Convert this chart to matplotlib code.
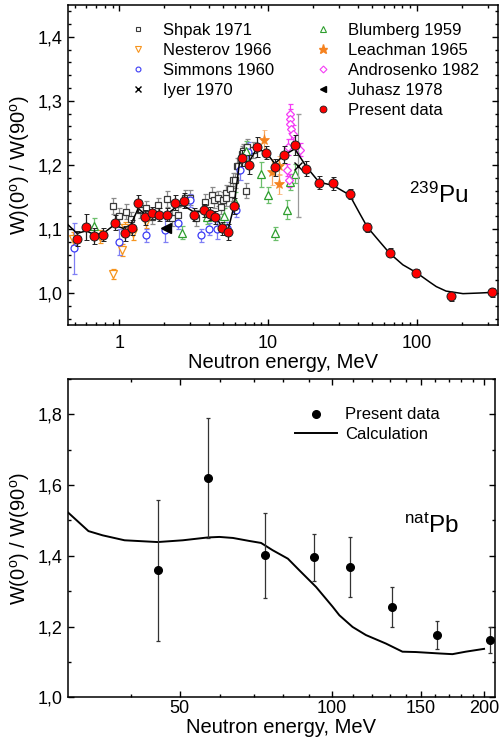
import matplotlib

matplotlib.use("Agg")
import matplotlib.pyplot as plt
from matplotlib.lines import Line2D
from matplotlib.ticker import FixedLocator, FuncFormatter, MultipleLocator, NullFormatter, LogLocator
import numpy as np

plt.rcParams["font.family"] = ["Liberation Sans", "DejaVu Sans"]
plt.rcParams["mathtext.fontset"] = "custom"
plt.rcParams["mathtext.rm"] = "Liberation Sans"
plt.rcParams["mathtext.it"] = "Liberation Sans:italic"
plt.rcParams["mathtext.bf"] = "Liberation Sans:bold"

# ---- 239Pu: present data (red circles) ----
PRESENT_E = [0.52, 0.60, 0.68, 0.78, 0.93, 1.10, 1.21, 1.33, 1.49, 1.65, 1.86, 2.08,
             2.36, 2.72, 3.17, 3.70, 4.06, 4.39, 4.91, 5.36, 5.89, 6.63, 7.42, 8.40,
             9.65, 11.1, 12.8, 15.1, 18.1, 22.0, 27.3, 35.3, 46.4, 65.6, 99.0, 170.0, 321.0]
PRESENT_W = [1.085, 1.103, 1.089, 1.091, 1.110, 1.093, 1.102, 1.140, 1.118, 1.125, 1.122, 1.122,
             1.141, 1.144, 1.122, 1.129, 1.124, 1.118, 1.101, 1.095, 1.136, 1.211, 1.200, 1.228,
             1.219, 1.196, 1.216, 1.231, 1.194, 1.172, 1.171, 1.154, 1.103, 1.063, 1.031, 0.995, 1.001]
PRESENT_ERR = [0.012, 0.02, 0.012, 0.01, 0.012, 0.012, 0.012, 0.013, 0.012, 0.01, 0.01, 0.01,
               0.012, 0.012, 0.01, 0.01, 0.01, 0.01, 0.01, 0.012, 0.013, 0.012, 0.015, 0.015,
               0.01, 0.013, 0.013, 0.015, 0.012, 0.01, 0.01, 0.008, 0.007, 0.007, 0.006, 0.007, 0.007]

# black guide curve
CURVE_E = [0.45, 0.52, 0.60, 0.68, 0.78, 0.92, 1.06, 1.19, 1.34, 1.50, 1.85, 2.08, 2.45, 2.72,
           3.14, 3.77, 4.39, 4.94, 5.36, 5.89, 6.45, 7.42, 8.36, 9.65, 11.1, 12.8, 15.1, 18.1,
           22.0, 27.3, 35.3, 41.3, 46.4, 56.3, 65.6, 80.5, 99.0, 122.0, 135.0, 157.0, 204.0,
           265.0, 321.0]
CURVE_W = [1.107, 1.093, 1.097, 1.091, 1.093, 1.106, 1.101, 1.106, 1.132, 1.122, 1.123, 1.122,
           1.136, 1.136, 1.127, 1.127, 1.122, 1.101, 1.097, 1.135, 1.207, 1.204, 1.225, 1.220,
           1.202, 1.215, 1.225, 1.197, 1.173, 1.168, 1.153, 1.124, 1.103, 1.080, 1.062, 1.044,
           1.032, 1.017, 1.010, 1.003, 0.999, 1.000, 1.001]

SHPAK_E = [0.903, 1.00, 1.11, 1.20, 1.38, 1.51, 1.65, 1.81, 2.10, 2.25, 2.49, 2.76, 2.98, 3.30,
           3.76, 4.17, 4.32, 4.62, 4.86, 4.94, 5.18, 5.25, 5.54, 5.68, 5.83, 5.97, 6.19, 6.28,
           6.63, 6.80, 7.05, 7.17, 7.86]
SHPAK_W = [1.136, 1.120, 1.127, 1.115, 1.129, 1.132, 1.119, 1.137, 1.147, 1.117, 1.122, 1.149,
           1.149, 1.117, 1.142, 1.153, 1.145, 1.148, 1.135, 1.145, 1.156, 1.148, 1.162, 1.155,
           1.176, 1.176, 1.198, 1.199, 1.217, 1.221, 1.160, 1.228, 1.223]
SHPAK_ERR = [0.012] * len(SHPAK_E)

NESTEROV_E = [0.487, 0.742, 0.903, 1.037, 1.09, 1.24, 1.51]
NESTEROV_W = [1.085, 1.088, 1.030, 1.067, 1.101, 1.093, 1.111]
NESTEROV_ERR = [0.01, 0.01, 0.008, 0.01, 0.01, 0.01, 0.01]

SIMMONS_E = [0.499, 1.00, 1.51, 2.03, 2.49, 2.98, 3.52, 3.99, 4.50, 5.33, 6.04, 6.45, 7.34]
SIMMONS_W = [1.070, 1.080, 1.090, 1.099, 1.110, 1.145, 1.090, 1.100, 1.100, 1.101, 1.129, 1.192, 1.220]
SIMMONS_ERR = [0.04, 0.02, 0.01, 0.02, 0.01, 0.01, 0.01, 0.01, 0.015, 0.01, 0.01, 0.015, 0.015]

IYER_E = [15.9]
IYER_W = [1.199]
IYER_ERR = [0.08]

BLUMBERG_E = [0.68, 2.62, 3.86, 5.04, 5.97, 7.05, 9.0, 10.0, 11.1, 13.3, 14.0, 15.1]
BLUMBERG_W = [1.105, 1.094, 1.119, 1.120, 1.142, 1.222, 1.185, 1.153, 1.093, 1.130, 1.173, 1.186]
BLUMBERG_ERR = [0.012, 0.01, 0.012, 0.012, 0.015, 0.015, 0.02, 0.012, 0.01, 0.015, 0.012, 0.015]

LEACHMAN_E = [9.4, 10.7, 11.8, 11.8]
LEACHMAN_W = [1.239, 1.189, 1.199, 1.170]
LEACHMAN_ERR = [0.015, 0.02, 0.015, 0.015]

ANDROSENKO_E = [13.3, 13.6, 13.8, 13.95, 14.1, 13.95, 14.3, 14.6, 16.3]
ANDROSENKO_W = [1.192, 1.228, 1.176, 1.280, 1.272, 1.264, 1.256, 1.248, 1.224]
ANDROSENKO_ERR = [0.01, 0.012, 0.01, 0.015, 0.015, 0.015, 0.015, 0.015, 0.01]

JUHASZ_E = [2.06]
JUHASZ_W = [1.102]

# ---- natPb ----
PB_E = [45.2, 56.8, 73.8, 92.0, 108.7, 131.3, 161.6, 205.2]
PB_W = [1.359, 1.620, 1.402, 1.396, 1.368, 1.256, 1.177, 1.162]
PB_ERR = [0.20, 0.17, 0.12, 0.067, 0.084, 0.056, 0.039, 0.037]

CALC_E = [30.0, 33.0, 35.2, 38.9, 45.2, 50.7, 56.8, 59.9, 63.7, 68.7, 72.4, 76.3, 81.8, 86.2,
          93.0, 100.3, 103.4, 109.8, 116.7, 127.8, 137.8, 146.5, 162.9, 173.0, 183.8, 199.8]
CALC_W = [1.524, 1.470, 1.458, 1.444, 1.439, 1.444, 1.452, 1.4535, 1.4506, 1.442, 1.4365, 1.416,
          1.392, 1.359, 1.312, 1.256, 1.232, 1.199, 1.176, 1.152, 1.129, 1.128, 1.124, 1.122,
          1.129, 1.137]

C_SHPAK = "#3a3a3a"
C_SHPAK_ERR = "#8a8a8a"
C_NESTEROV = "#f7941d"
C_SIMMONS = "#3b3bf5"
C_BLUMBERG = "#2e9e2e"
C_LEACHMAN = "#f5821f"
C_ANDRO = "#f53cf5"


def comma_fmt(v, _pos):
    return f"{v:.1f}".replace(".", ",")


def style_axes(ax):
    ax.tick_params(which="both", direction="in", top=True, right=True, width=1.0)
    ax.tick_params(which="major", length=4, labelsize=13)
    ax.tick_params(which="minor", length=2.2)
    for sp in ax.spines.values():
        sp.set_linewidth(1.1)


fig = plt.figure(figsize=(4.99, 7.51), dpi=100)
ax1 = fig.add_axes([0.1357, 0.5672, 0.862, 0.4265])
ax2 = fig.add_axes([0.1353, 0.0715, 0.8567, 0.4238])

# ---------------- top panel ----------------
ebar = dict(capsize=1.8, elinewidth=0.9, capthick=0.9, linestyle="none")
ax1.errorbar(SHPAK_E, SHPAK_W, yerr=SHPAK_ERR, marker="s", ms=5, mfc="white", mec=C_SHPAK,
             mew=0.9, ecolor=C_SHPAK_ERR, zorder=3, **ebar)
ax1.errorbar(NESTEROV_E, NESTEROV_W, yerr=NESTEROV_ERR, marker="v", ms=5.5, mfc="white",
             mec=C_NESTEROV, mew=0.9, ecolor=C_NESTEROV, zorder=3, **ebar)
ax1.errorbar(SIMMONS_E, SIMMONS_W, yerr=SIMMONS_ERR, marker="o", ms=5, mfc="white",
             mec=C_SIMMONS, mew=0.9, ecolor="#7f7ff5", zorder=3, **ebar)
ax1.errorbar(BLUMBERG_E, BLUMBERG_W, yerr=BLUMBERG_ERR, marker="^", ms=5.5, mfc="white",
             mec=C_BLUMBERG, mew=0.9, ecolor="#6cbf6c", zorder=3, **ebar)
ax1.errorbar(LEACHMAN_E, LEACHMAN_W, yerr=LEACHMAN_ERR, marker="*", ms=8, mfc=C_LEACHMAN,
             mec=C_LEACHMAN, mew=0.5, ecolor="#f8a860", zorder=3, **ebar)
ax1.errorbar(ANDROSENKO_E, ANDROSENKO_W, yerr=ANDROSENKO_ERR, marker="D", ms=4.5, mfc="white",
             mec=C_ANDRO, mew=0.9, ecolor=C_ANDRO, zorder=3, **ebar)
ax1.errorbar(IYER_E, IYER_W, yerr=IYER_ERR, marker="x", ms=5.5, mec="black", mew=1.0,
             ecolor="#9a9a9a", zorder=4, **ebar)
ax1.plot(JUHASZ_E, JUHASZ_W, linestyle="none", marker="<", ms=6.5, color="black", zorder=4)
ax1.plot(CURVE_E, CURVE_W, color="black", lw=1.1, zorder=5)
ax1.errorbar(PRESENT_E, PRESENT_W, yerr=PRESENT_ERR, marker="o", ms=6.5, mfc="#ff0000",
             mec="#202020", mew=0.7, ecolor="#202020", zorder=6, **ebar)

ax1.set_xscale("log")
ax1.set_xlim(0.45, 350)
ax1.set_ylim(0.95, 1.45)
ax1.xaxis.set_major_locator(FixedLocator([1, 10, 100]))
ax1.xaxis.set_major_formatter(FuncFormatter(lambda v, p: f"{v:g}"))
ax1.xaxis.set_minor_locator(LogLocator(base=10, subs=np.arange(2, 10)))
ax1.xaxis.set_minor_formatter(NullFormatter())
ax1.yaxis.set_major_locator(MultipleLocator(0.1))
ax1.yaxis.set_minor_locator(MultipleLocator(0.02))
ax1.yaxis.set_major_formatter(FuncFormatter(comma_fmt))
style_axes(ax1)
ax1.tick_params(axis="x", which="major", pad=7)
ax1.set_xlabel("Neutron energy, MeV", fontsize=14.5, labelpad=1)
ax1.set_ylabel(r"W)(0$^{\mathrm{o}}$) / W(90$^{\mathrm{o}}$)", fontsize=14.5, labelpad=4)
ax1.text(0.793, 0.38, r"$^{239}$Pu", transform=ax1.transAxes, fontsize=17.5,
         ha="left", va="baseline")

leg_kw = dict(frameon=False, fontsize=12, handlelength=1.0, handletextpad=1.0,
              labelspacing=0.3, borderpad=0, borderaxespad=0, loc="upper left")
h1 = [
    Line2D([], [], ls="none", marker="s", ms=3.5, mfc="white", mec=C_SHPAK, mew=0.8),
    Line2D([], [], ls="none", marker="v", ms=4, mfc="white", mec=C_NESTEROV, mew=0.8),
    Line2D([], [], ls="none", marker="o", ms=3.5, mfc="white", mec=C_SIMMONS, mew=0.8),
    Line2D([], [], ls="none", marker="x", ms=4.5, mec="black", mew=1.0),
]
l1 = ax1.legend(h1, ["Shpak 1971", "Nesterov 1966", "Simmons 1960", "Iyer 1970"],
                bbox_to_anchor=(0.143, 0.944), **leg_kw)
ax1.add_artist(l1)
h2 = [
    Line2D([], [], ls="none", marker="^", ms=4, mfc="white", mec=C_BLUMBERG, mew=0.8),
    Line2D([], [], ls="none", marker="*", ms=6.5, mfc=C_LEACHMAN, mec=C_LEACHMAN),
    Line2D([], [], ls="none", marker="D", ms=3.5, mfc="white", mec=C_ANDRO, mew=0.8),
    Line2D([], [], ls="none", marker="<", ms=5, color="black"),
    Line2D([], [], ls="none", marker="o", ms=5, mfc="#ff0000", mec="#202020", mew=0.6),
]
ax1.legend(h2, ["Blumberg 1959", "Leachman 1965", "Androsenko 1982", "Juhasz 1978",
                "Present data"], bbox_to_anchor=(0.573, 0.944), **leg_kw)

# ---------------- bottom panel ----------------
ax2.plot(CALC_E, CALC_W, color="black", lw=1.4, label="Calculation", zorder=3)
ax2.errorbar(PB_E, PB_W, yerr=PB_ERR, marker="o", ms=5.5, color="black", ecolor="#333333",
             elinewidth=0.9, capsize=1.5, capthick=0.9, linestyle="none", label="Present data",
             zorder=4)
ax2.set_xscale("log")
ax2.set_xlim(30, 210)
ax2.set_ylim(1.0, 1.9)
ax2.xaxis.set_major_locator(FixedLocator([50, 100, 150, 200]))
ax2.xaxis.set_major_formatter(FuncFormatter(lambda v, p: f"{v:g}"))
ax2.xaxis.set_minor_locator(FixedLocator([40, 60, 70, 80, 90, 110, 120, 130, 140,
                                          160, 170, 180, 190]))
ax2.xaxis.set_minor_formatter(NullFormatter())
ax2.yaxis.set_major_locator(MultipleLocator(0.2))
ax2.yaxis.set_minor_locator(MultipleLocator(0.1))
ax2.yaxis.set_major_formatter(FuncFormatter(comma_fmt))
style_axes(ax2)
ax2.tick_params(axis="x", which="major", pad=2)
ax2.set_xlabel("Neutron energy, MeV", fontsize=14.5, labelpad=1)
ax2.set_ylabel(r"W(0$^{\mathrm{o}}$) / W(90$^{\mathrm{o}}$)", fontsize=14.5, labelpad=4)
ax2.text(0.787, 0.516, r"$^{\mathrm{nat}}$Pb", transform=ax2.transAxes, fontsize=17.5,
         ha="left", va="baseline")
hb = [
    Line2D([], [], ls="none", marker="o", ms=5.5, color="black"),
    Line2D([], [], color="black", lw=1.4),
]
ax2.legend(hb, ["Present data", "Calculation"], frameon=False, fontsize=12, handlelength=2.5,
           handletextpad=0.5, labelspacing=0.25, borderpad=0, borderaxespad=0,
           loc="upper left", bbox_to_anchor=(0.532, 0.911))

fig.savefig("out.png", dpi=100)
